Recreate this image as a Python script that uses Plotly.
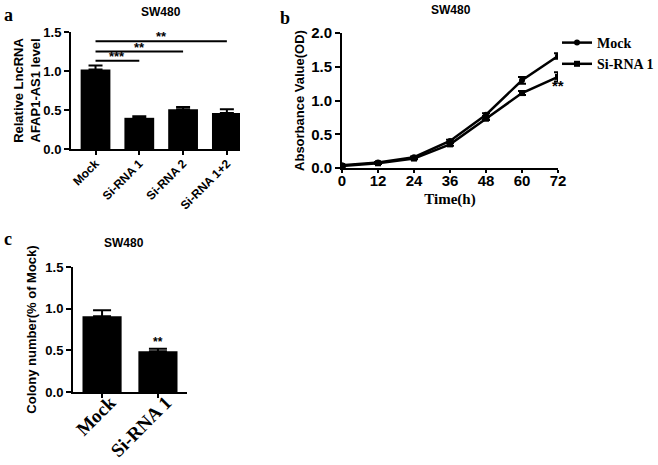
import plotly.graph_objects as go

W, H = 658, 465

# Panel a data
a_categories = ["Mock", "Si-RNA 1", "Si-RNA 2", "Si-RNA 1+2"]
a_values = [1.02, 0.40, 0.51, 0.46]
a_errors = [0.05, 0.02, 0.03, 0.05]
a_sig_targets = [1, 2, 3]
a_sig_heights = [1.13, 1.25, 1.38]
a_sig_labels = ["***", "**", "**"]

# Panel b data
b_time = [0, 12, 24, 36, 48, 60, 72]
b_mock = [0.04, 0.08, 0.16, 0.40, 0.79, 1.30, 1.66]
b_mock_err = [0.01, 0.01, 0.01, 0.02, 0.02, 0.05, 0.04]
b_si1 = [0.03, 0.07, 0.14, 0.35, 0.73, 1.11, 1.35]
b_si1_err = [0.01, 0.01, 0.01, 0.02, 0.02, 0.03, 0.07]

# Panel c data
c_categories = ["Mock", "Si-RNA 1"]
c_values = [0.91, 0.49]
c_errors = [0.07, 0.03]

SANS = "Liberation Sans, Arial, sans-serif"
SERIF = "Liberation Serif, Times New Roman, serif"


def px_x(p):
    return p / W


def px_y(p):
    return 1 - p / H


fig = go.Figure()

# Panel a bars
fig.add_trace(go.Bar(
    x=list(range(len(a_categories))), y=a_values, width=0.68,
    marker=dict(color="black", line=dict(width=0)),
    error_y=dict(type="data", array=a_errors, arrayminus=[0] * 4, symmetric=False,
                 color="black", thickness=2, width=7),
    xaxis="x", yaxis="y", showlegend=False))

# Panel b lines
fig.add_trace(go.Scatter(
    x=b_time, y=b_mock, mode="lines+markers", name="Mock",
    line=dict(color="black", width=2.5), marker=dict(symbol="circle", size=6, color="black"),
    error_y=dict(type="data", array=b_mock_err, color="black", thickness=2, width=4),
    xaxis="x2", yaxis="y2"))
fig.add_trace(go.Scatter(
    x=b_time, y=b_si1, mode="lines+markers", name="Si-RNA 1",
    line=dict(color="black", width=2.5), marker=dict(symbol="square", size=6, color="black"),
    error_y=dict(type="data", array=b_si1_err, color="black", thickness=2, width=4),
    xaxis="x2", yaxis="y2"))

# Panel c bars
fig.add_trace(go.Bar(
    x=list(range(len(c_categories))), y=c_values, width=0.7,
    marker=dict(color="black", line=dict(width=0)),
    error_y=dict(type="data", array=c_errors, arrayminus=[0] * 2, symmetric=False,
                 color="black", thickness=2, width=9),
    xaxis="x3", yaxis="y3", showlegend=False))

axis_common = dict(showgrid=False, zeroline=False, showline=True, linecolor="black",
                   linewidth=2, ticks="outside", tickwidth=2, tickcolor="black", ticklen=5,
                   automargin=False)

shapes = []
annotations = []

# significance lines panel a
for t, h, lab in zip(a_sig_targets, a_sig_heights, a_sig_labels):
    shapes.append(dict(type="line", xref="x", yref="y", x0=0, x1=t, y0=h, y1=h,
                       line=dict(color="black", width=2)))
    annotations.append(dict(xref="x", yref="y", x=t / 2, y=h, text=lab, showarrow=False,
                            yanchor="bottom", yshift=-5,
                            font=dict(family=SANS, size=13, color="black", weight="bold")))

# ** in panel b
annotations.append(dict(xref="x2", yref="y2", x=72, y=1.22, text="**", showarrow=False,
                        yanchor="middle", font=dict(family=SANS, size=15, color="black", weight="bold")))
# ** in panel c
annotations.append(dict(xref="x3", yref="y3", x=1, y=c_values[1] + c_errors[1], text="**",
                        showarrow=False, yanchor="bottom", yshift=-2,
                        font=dict(family=SANS, size=12, color="black", weight="bold")))

# titles and panel letters
for x, y, t in [(161, 12, "SW480"), (451, 10, "SW480"), (124, 243, "SW480")]:
    annotations.append(dict(xref="paper", yref="paper", x=px_x(x), y=px_y(y), text=t,
                            showarrow=False, xanchor="center", yanchor="middle",
                            font=dict(family=SANS, size=12, color="black", weight="bold")))
for x, y, t in [(8, 15, "a"), (285, 18, "b"), (8, 239, "c")]:
    annotations.append(dict(xref="paper", yref="paper", x=px_x(x), y=px_y(y), text=t,
                            showarrow=False, xanchor="center", yanchor="middle",
                            font=dict(family=SERIF, size=18, color="black", weight="bold")))

fig.update_layout(
    width=W, height=H, margin=dict(l=0, r=0, t=0, b=0, autoexpand=False),
    paper_bgcolor="white", plot_bgcolor="white",
    font=dict(family=SANS, color="black"),
    shapes=shapes, annotations=annotations,
    xaxis=dict(axis_common, domain=[px_x(71), px_x(240)], anchor="y",
               range=[-0.56, 3.3], tickmode="array", tickvals=list(range(4)),
               ticktext=a_categories, tickangle=-45, ticklen=4, ticklabelstandoff=-3,
               tickfont=dict(family=SANS, size=12, weight="bold")),
    yaxis=dict(axis_common, domain=[px_y(149), px_y(32)], anchor="x",
               range=[0, 1.5], tickvals=[0, 0.5, 1.0, 1.5], tickformat=".1f",
               tickfont=dict(family=SANS, size=13, weight="bold"),
               title=dict(text="Relative LncRNA<br>AFAP1-AS1 level", standoff=0,
                          font=dict(family=SANS, size=13, weight="bold"))),
    xaxis2=dict(axis_common, domain=[px_x(342), px_x(558)], anchor="y2",
                range=[0, 72], tickvals=b_time, ticklen=3, ticklabelstandoff=-5,
                tickfont=dict(family=SANS, size=15, weight="bold"),
                title=dict(text="Time(h)", standoff=5,
                           font=dict(family=SERIF, size=15, weight="bold"))),
    yaxis2=dict(axis_common, domain=[px_y(168), px_y(33)], anchor="x2",
                range=[0, 2.0], tickvals=[0, 0.5, 1.0, 1.5, 2.0], tickformat=".1f",
                tickfont=dict(family=SANS, size=15, weight="bold"),
                title=dict(text="Absorbance Value(OD)", standoff=4,
                           font=dict(family=SANS, size=13, weight="bold"))),
    xaxis3=dict(axis_common, domain=[px_x(73), px_x(187)], anchor="y3",
                range=[-0.52, 1.52], tickmode="array", tickvals=[0, 1],
                ticktext=c_categories, tickangle=-45, ticklen=4, ticklabelshift=8,
                ticklabelstandoff=-14,
                tickfont=dict(family=SERIF, size=19, weight="bold")),
    yaxis3=dict(axis_common, domain=[px_y(392), px_y(267)], anchor="x3",
                range=[0, 1.5], tickvals=[0, 0.5, 1.0, 1.5], tickformat=".1f",
                tickfont=dict(family=SANS, size=13, weight="bold"),
                title=dict(text="Colony number(% of Mock)", standoff=6,
                           font=dict(family=SANS, size=13, weight="bold"))),
    legend=dict(x=px_x(557), y=px_y(27), xanchor="left", yanchor="top",
                bgcolor="rgba(0,0,0,0)", tracegroupgap=0, itemwidth=30,
                font=dict(family=SERIF, size=14, color="black", weight="bold")),
)

fig.write_html("out.html", config={"displayModeBar": False},
               post_script="document.body.style.margin='0';")
